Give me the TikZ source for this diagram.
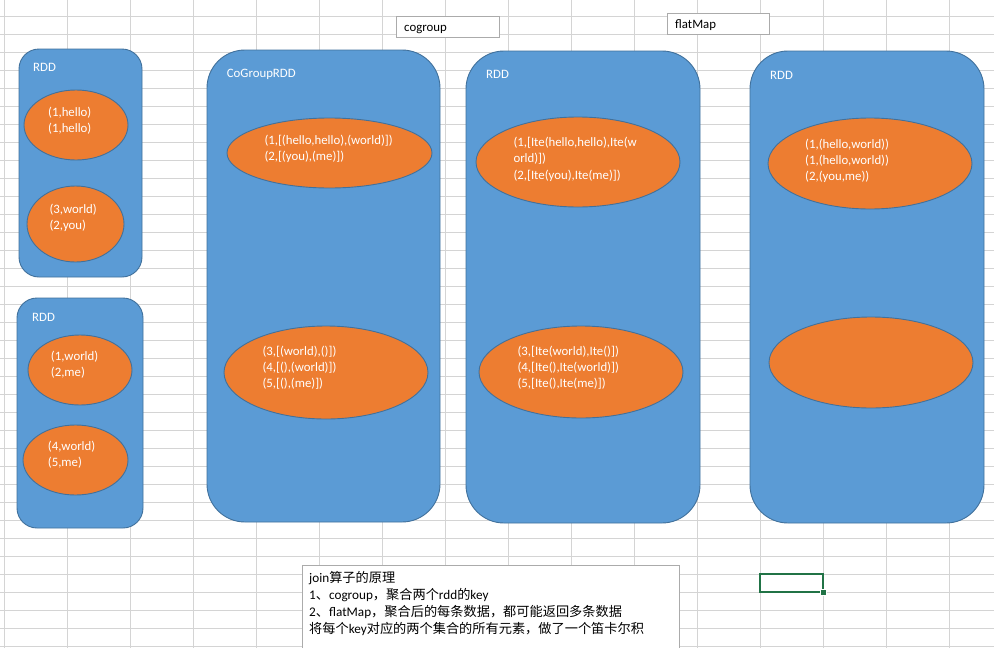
\documentclass[tikz,border=0pt]{standalone}
\usepackage{fontspec}
\setmainfont{Carlito}
\newfontfamily\cjk{Noto Sans CJK SC}
\usetikzlibrary{shapes.geometric}
\definecolor{rddblue}{HTML}{5B9BD5}
\definecolor{rddline}{HTML}{41719C}
\definecolor{partorange}{HTML}{ED7D31}
\definecolor{gridgray}{HTML}{D4D4D4}
\definecolor{boxgray}{HTML}{ABABAB}
\definecolor{selgreen}{HTML}{217346}
\begin{document}
\begin{tikzpicture}[x=1pt,y=-1pt,
  rddbox/.style={rectangle, draw=rddline, fill=rddblue, line width=0.9pt, inner sep=0pt, outer sep=0pt},
  part/.style={ellipse, draw=rddline, fill=partorange, line width=0.9pt, inner sep=0pt, outer sep=0pt},
  ptext/.style={text=white, font=\fontsize{12.8}{16.3}\selectfont, align=left, inner sep=0pt, anchor=west},
  lbl/.style={text=white, font=\fontsize{12.8}{15}\selectfont, inner sep=0pt, anchor=base west},
  tbox/.style={rectangle, draw=boxgray, fill=white, line width=0.8pt, inner sep=0pt, outer sep=0pt},
  btext/.style={text=black, font=\fontsize{12.8}{15}\selectfont, inner sep=0pt, anchor=base west}]
\useasboundingbox (0,0) rectangle (994,648);
\fill[white] (0,0) rectangle (994,648);
% spreadsheet grid
\foreach \k in {0,...,15} \draw[gridgray, line width=1pt] ({4+63*\k},0) -- ({4+63*\k},648);
\foreach \k in {0,...,35} \draw[gridgray, line width=1pt] (0,{16+18*\k}) -- (994,{16+18*\k});
% text boxes at top
\node[tbox, minimum width=103pt, minimum height=21pt] (cgbox) at (447.5,26.5) {};
\node[btext] (cgtext) at (404,31.5) {cogroup};
\node[tbox, minimum width=102pt, minimum height=21pt] (fmbox) at (718,23.5) {};
\node[btext] (fmtext) at (675,28.5) {flatMap};
% RDD 1
\node[rddbox, rounded corners=20pt, minimum width=123pt, minimum height=228pt] (r1) at (80.5,163) {};
\node[lbl] (r1l) at (33,71) {RDD};
\node[part, minimum width=104pt, minimum height=70pt] (e1) at (76,125) {};
\node[ptext] (t1) at (48,120.5) {(1,hello)\\(1,hello)};
\node[part, minimum width=97pt, minimum height=76pt] (e2) at (75.5,224) {};
\node[ptext] (t2) at (49.3,217.7) {(3,world)\\(2,you)};
% RDD 2
\node[rddbox, rounded corners=20pt, minimum width=126pt, minimum height=230pt] (r2) at (80,413) {};
\node[lbl] (r2l) at (32,321) {RDD};
\node[part, minimum width=104pt, minimum height=70pt] (e3) at (80,370) {};
\node[ptext] (t3) at (50.7,364.5) {(1,world)\\(2,me)};
\node[part, minimum width=105pt, minimum height=70pt] (e4) at (75.5,460) {};
\node[ptext] (t4) at (47.7,454.5) {(4,world)\\(5,me)};
% CoGroupRDD
\node[rddbox, rounded corners=38pt, minimum width=233pt, minimum height=472pt] (cg) at (323.5,286) {};
\node[lbl] (cgl) at (226.7,77.3) {CoGroupRDD};
\node[part, minimum width=205pt, minimum height=70pt] (e5) at (329.5,153) {};
\node[ptext] (t5) at (264.3,148.8) {(1,[(hello,hello),(world)])\\(2,[(you),(me)])};
\node[part, minimum width=204pt, minimum height=93pt] (e6) at (326,372.5) {};
\node[ptext] (t6) at (262.3,367.7) {(3,[(world),()])\\(4,[(),(world)])\\(5,[(),(me)])};
% RDD 3
\node[rddbox, rounded corners=38pt, minimum width=234pt, minimum height=472pt] (r3) at (583,287) {};
\node[lbl] (r3l) at (486,78) {RDD};
\node[part, minimum width=204pt, minimum height=90pt] (e7) at (578,162) {};
\node[ptext] (t7) at (513.3,159.2) {(1,[Ite(hello,hello),Ite(w\\orld)])\\(2,[Ite(you),Ite(me)])};
\node[part, minimum width=204pt, minimum height=92pt] (e8) at (581,372) {};
\node[ptext] (t8) at (517.3,367.7) {(3,[Ite(world),Ite()])\\(4,[Ite(),Ite(world)])\\(5,[Ite(),Ite(me)])};
% RDD 4
\node[rddbox, rounded corners=38pt, minimum width=234pt, minimum height=472pt] (r4) at (867,287) {};
\node[lbl] (r4l) at (770,79) {RDD};
\node[part, minimum width=204pt, minimum height=91pt] (e9) at (870,163.5) {};
\node[ptext] (t9) at (805,160.8) {(1,(hello,world))\\(1,(hello,world))\\(2,(you,me))};
\node[part, minimum width=204pt, minimum height=91pt] (e10) at (871,362.5) {};
% bottom note
\node[tbox, minimum width=377pt, minimum height=95pt] (note) at (490.5,612.5) {};
\node[text=black, font=\fontsize{13.2}{17}\selectfont, align=left, inner sep=0pt, anchor=west] (notetext) at (309,603)
  {join{\cjk 算子的原理}\\1{\cjk 、}cogroup{\cjk ，聚合两个}rdd{\cjk 的}key\\2{\cjk 、}flatMap{\cjk ，聚合后的每条数据，都可能返回多条数据}\\{\cjk 将每个}key{\cjk 对应的两个集合的所有元素，做了一个笛卡尔积}};
% selected cell
\draw[selgreen, line width=2pt] (760,574) rectangle (823,592);
\node[rectangle, fill=selgreen, draw=white, line width=0.8pt, minimum size=6pt, inner sep=0pt] (handle) at (823,592.5) {};
\end{tikzpicture}
\end{document}
